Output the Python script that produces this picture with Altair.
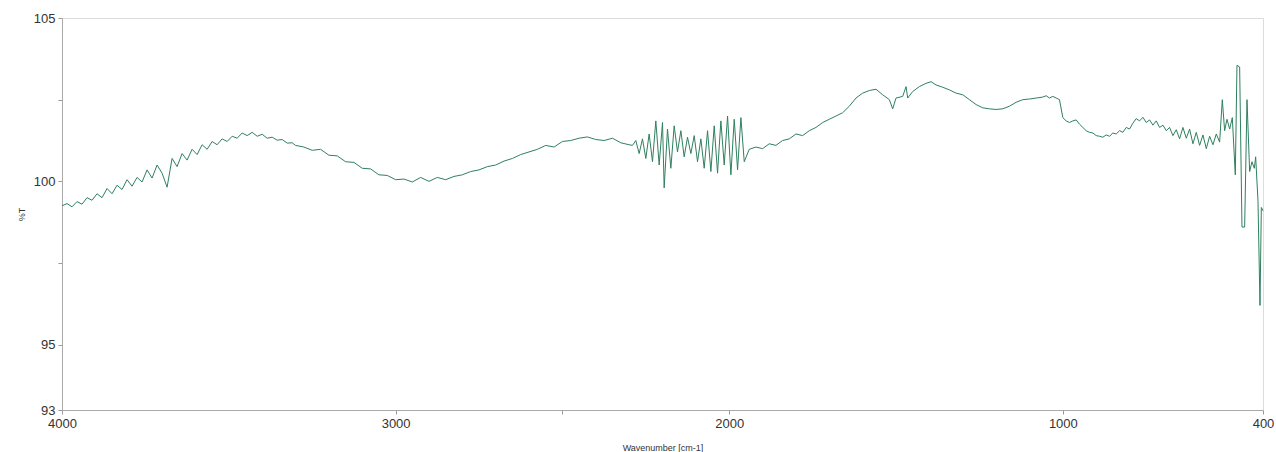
import altair as alt
import pandas as pd

# Wavenumber (cm-1), high to low
wavenumber = [
    4000, 3985, 3970, 3955, 3940, 3925, 3910, 3895, 3880, 3865, 3850, 3835, 3820, 3805,
    3790, 3775, 3760, 3745, 3730, 3715, 3700, 3685, 3670, 3655, 3640, 3625, 3610, 3595,
    3580, 3565, 3550, 3535, 3520, 3505, 3490, 3475, 3460, 3445, 3430, 3415, 3400, 3385,
    3370, 3355, 3340, 3325, 3310,
    3300, 3275, 3250, 3225, 3200, 3175, 3150, 3125, 3100, 3075, 3050, 3025, 3000, 2975,
    2950, 2925, 2900, 2875, 2850, 2825, 2800, 2775, 2750, 2725, 2700, 2675, 2650, 2625,
    2600, 2575, 2550, 2525, 2500, 2475, 2450, 2425, 2400, 2375, 2350, 2325, 2300,
    2290, 2280, 2270, 2260, 2250, 2240, 2230, 2220, 2210, 2200, 2195, 2185, 2175, 2165,
    2155, 2145, 2135, 2125, 2115, 2105, 2095, 2085, 2075, 2065, 2055, 2045, 2035, 2025,
    2015, 2005, 1995, 1985, 1975, 1965, 1955,
    1940, 1920, 1900, 1880, 1860, 1840, 1820, 1800, 1780, 1760, 1740, 1720, 1700, 1680,
    1660, 1640, 1620, 1600, 1580, 1560, 1540, 1520, 1510, 1500, 1480, 1470, 1465, 1450,
    1430, 1410, 1395, 1380, 1360, 1340, 1320, 1300, 1280, 1260, 1240, 1220, 1200, 1180,
    1160, 1140, 1120, 1100, 1080, 1060, 1050, 1040, 1030, 1020, 1010,
    1000, 990, 980, 970, 960, 950, 940, 930, 920, 910, 900, 890, 880, 870, 860, 850,
    840, 830, 820, 810, 800, 790, 780, 770, 760, 750, 740, 730, 720, 710, 700, 690,
    680, 670, 660, 650, 640, 630, 620, 610, 600, 590, 580, 570, 560, 550, 540, 530,
    522, 515, 508, 500, 492, 483, 478, 470, 463, 455, 448, 440, 433, 426, 422, 415,
    409, 405, 400,
]

# Transmittance (%T)
transmittance = [
    99.25, 99.32, 99.22, 99.38, 99.30, 99.50, 99.42, 99.62, 99.50, 99.78, 99.62, 99.88, 99.75, 100.05,
    99.85, 100.12, 99.98, 100.35, 100.10, 100.50, 100.25, 99.82, 100.70, 100.45, 100.85, 100.65, 100.98, 100.82,
    101.12, 100.98, 101.22, 101.12, 101.30, 101.22, 101.38, 101.32, 101.48, 101.40, 101.50, 101.38, 101.44, 101.32,
    101.35, 101.26, 101.28, 101.17, 101.18,
    101.10, 101.05, 100.95, 100.98, 100.80, 100.78, 100.60, 100.58, 100.40, 100.38, 100.20, 100.18, 100.05, 100.07,
    99.98, 100.12, 100.00, 100.12, 100.05, 100.15, 100.20, 100.30, 100.35, 100.45, 100.50, 100.62, 100.70, 100.82,
    100.90, 100.98, 101.10, 101.05, 101.22, 101.25, 101.32, 101.36, 101.28, 101.25, 101.32, 101.18, 101.12,
    101.10, 101.25, 100.85, 101.30, 100.70, 101.45, 100.60, 101.85, 100.50, 101.80, 99.80, 101.60, 100.40, 101.70,
    100.90, 101.55, 100.75, 101.35, 100.85, 101.40, 100.60, 101.30, 100.40, 101.55, 100.30, 101.70, 100.25, 101.85,
    100.50, 102.00, 100.20, 101.90, 100.35, 101.95, 100.60,
    100.98, 101.05, 101.00, 101.15, 101.10, 101.25, 101.30, 101.45, 101.40, 101.55, 101.65, 101.80, 101.90, 102.00,
    102.10, 102.30, 102.55, 102.70, 102.78, 102.82, 102.65, 102.50, 102.22, 102.55, 102.60, 102.90, 102.55, 102.75,
    102.90, 103.00, 103.05, 102.95, 102.88, 102.80, 102.70, 102.65, 102.50, 102.35, 102.25, 102.22, 102.20, 102.22,
    102.30, 102.42, 102.50, 102.52, 102.55, 102.58, 102.62, 102.55, 102.60, 102.55, 102.50,
    101.95, 101.85, 101.80, 101.85, 101.88, 101.75, 101.65, 101.55, 101.50, 101.48, 101.40, 101.38, 101.35, 101.42, 101.38, 101.48,
    101.45, 101.55, 101.50, 101.65, 101.60, 101.78, 101.92, 101.85, 101.96, 101.80, 101.88, 101.72, 101.85, 101.65, 101.72, 101.55,
    101.65, 101.40, 101.58, 101.30, 101.65, 101.32, 101.60, 101.15, 101.50, 101.10, 101.42, 101.00, 101.38, 101.12, 101.45, 101.20,
    102.50, 101.55, 101.90, 101.60, 101.95, 100.20, 103.55, 103.50, 98.60, 98.60, 102.50, 100.30, 100.60, 100.40, 100.75, 99.40,
    96.20, 99.20, 99.10,
]

x_ticks = [4000, 3000, 2500, 2000, 1000, 400]
x_labelled = [4000, 3000, 2000, 1000, 400]
y_ticks = [93, 95, 97.5, 100, 102.5, 105]
y_labelled = [93, 95, 100, 105]

df = pd.DataFrame({"wavenumber": wavenumber, "T": transmittance})

FONT = "Liberation Sans"
GREY = "#333333"

x_expr = "indexof([" + ",".join(str(v) for v in x_labelled) + "], datum.value) >= 0 ? datum.value : ''"
y_expr = "indexof([" + ",".join(str(v) for v in y_labelled) + "], datum.value) >= 0 ? datum.value : ''"

chart = (
    alt.Chart(df)
    .mark_line(color="#2f8060", strokeWidth=1)
    .encode(
        x=alt.X(
            "wavenumber:Q",
            scale=alt.Scale(domain=[4000, 400], nice=False, zero=False),
            axis=alt.Axis(
                values=x_ticks,
                labelExpr=x_expr,
                title="Wavenumber [cm-1]",
                titleFontSize=9,
                titleFontWeight="normal",
                titleColor=GREY,
                titleY=37,
                titleBaseline="middle",
                labelFontSize=13,
                labelColor=GREY,
                labelFlush=False,
                labelPadding=3,
                tickSize=4,
                tickColor="#999999",
                domainColor="#aaaaaa",
                grid=False,
                labelFont=FONT,
                titleFont=FONT,
            ),
        ),
        y=alt.Y(
            "T:Q",
            scale=alt.Scale(domain=[93, 105], nice=False, zero=False),
            axis=alt.Axis(
                values=y_ticks,
                labelExpr=y_expr,
                title="%T",
                titleFontSize=9,
                titleFontWeight="normal",
                titleColor=GREY,
                titleX=-41,
                titleY=196,
                titleAlign="center",
                titleBaseline="middle",
                labelFontSize=13,
                labelColor=GREY,
                labelPadding=3,
                tickSize=4,
                tickColor="#999999",
                domainColor="#aaaaaa",
                grid=False,
                labelFont=FONT,
                titleFont=FONT,
            ),
        ),
        order=alt.Order("wavenumber:Q", sort="descending"),
    )
    .properties(
        width=1201,
        height=392,
        autosize=alt.AutoSizeParams(type="none"),
        padding={"left": 62, "top": 18, "right": 13, "bottom": 42},
    )
    .configure_view(stroke="#aaaaaa", strokeWidth=1)
    .configure(background="white")
)

chart.save("out.html", embed_options={"renderer": "svg", "actions": False})
